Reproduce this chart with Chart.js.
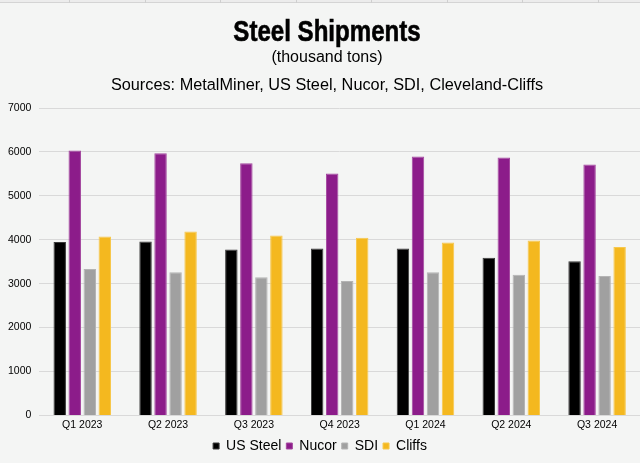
<!DOCTYPE html>
<html>
<head>
<meta charset="utf-8">
<script src="https://cdn.jsdelivr.net/npm/chart.js@4/dist/chart.umd.min.js"></script>
<style>
  html, body { margin: 0; padding: 0; background: #f4f5f4; }
  #wrap { position: relative; width: 640px; height: 463px; overflow: hidden; background: #f4f5f4; }
  #strip { position: absolute; left: 0; top: 0; width: 640px; height: 2px; border-bottom: 1px solid #d4d4d4; background: #ececec; }
  .cell { position: absolute; top: 0; width: 1px; height: 3px; background: #cfcfcf; }
  .txt { position: absolute; left: 7px; width: 640px; text-align: center; color: #000; white-space: nowrap; }
  #title { top: 15px; font-family: "Liberation Sans", Arial, sans-serif; font-weight: bold; font-size: 29px; line-height: 32px;
           transform: scaleX(0.83); transform-origin: 320px 50%; -webkit-text-stroke: 0.6px #000; }
  #sub { top: 47px; font-family: "Liberation Sans", Arial, sans-serif; font-size: 16px; line-height: 20px; }
  #src { top: 74px; font-family: "Liberation Sans", Arial, sans-serif; font-size: 16.3px; line-height: 20px; }
  canvas { position: absolute; left: 0; top: 0; }
</style>
</head>
<body>
<div id="wrap">
  <div id="strip"></div>
  <div class="cell" style="left:69px"></div>
  <div class="cell" style="left:145px"></div>
  <div class="cell" style="left:220px"></div>
  <div class="cell" style="left:296px"></div>
  <div class="cell" style="left:371px"></div>
  <div class="cell" style="left:447px"></div>
  <div class="cell" style="left:522px"></div>
  <div class="cell" style="left:598px"></div>
  <canvas id="c" width="640" height="463"></canvas>
  <div id="title" class="txt">Steel Shipments</div>
  <div id="sub" class="txt">(thousand tons)</div>
  <div id="src" class="txt">Sources: MetalMiner, US Steel, Nucor, SDI, Cleveland-Cliffs</div>
</div>
<script>
const categories = ["Q1 2023", "Q2 2023", "Q3 2023", "Q4 2023", "Q1 2024", "Q2 2024", "Q3 2024"];
const usSteel = [3948, 3962, 3780, 3803, 3803, 3591, 3508];
const nucor   = [6030, 5970, 5742, 5508, 5894, 5871, 5712];
const sdi     = [3333, 3258, 3144, 3061, 3258, 3205, 3174];
const cliffs  = [4076, 4189, 4098, 4045, 3939, 3985, 3833];
const yTicks  = [0, 1000, 2000, 3000, 4000, 5000, 6000, 7000];

const font = "'Liberation Sans', Arial, sans-serif";

new Chart(document.getElementById('c'), {
  type: 'bar',
  data: {
    labels: categories,
    datasets: [
      { label: 'US Steel', data: usSteel, backgroundColor: '#000000', borderColor: '#3a3a3a', borderWidth: 1 },
      { label: 'Nucor', data: nucor, backgroundColor: '#8c1c8a', borderColor: '#a4489f', borderWidth: 1 },
      { label: 'SDI', data: sdi, backgroundColor: '#a0a0a0', borderColor: '#b4b4b4', borderWidth: 1 },
      { label: 'Cliffs', data: cliffs, backgroundColor: '#f4b81f', borderColor: '#f7c84c', borderWidth: 1 }
    ]
  },
  options: {
    responsive: false,
    animation: false,
    layout: { padding: { top: 108, left: 0, right: 0, bottom: 0 } },
    datasets: { bar: { categoryPercentage: 0.7, barPercentage: 0.83 } },
    plugins: {
      title: { display: false },
      tooltip: { enabled: false },
      legend: {
        position: 'bottom',
        labels: {
          boxWidth: 6, boxHeight: 6, padding: 5,
          color: '#000', font: { family: font, size: 14 }
        }
      }
    },
    scales: {
      x: {
        grid: { display: false, drawTicks: false },
        border: { display: false },
        ticks: { color: '#000', padding: 3, font: { family: font, size: 10.5 }, maxRotation: 0 }
      },
      y: {
        min: 0, max: 7000,
        afterBuildTicks: (axis) => { axis.ticks = yTicks.map(v => ({ value: v })); },
        grid: { color: '#d9d9d9', lineWidth: 1, drawTicks: false },
        border: { display: false },
        ticks: { color: '#000', padding: 8, font: { family: font, size: 10.5 }, callback: (v) => String(v) }
      }
    }
  }
});
</script>
</body>
</html>
